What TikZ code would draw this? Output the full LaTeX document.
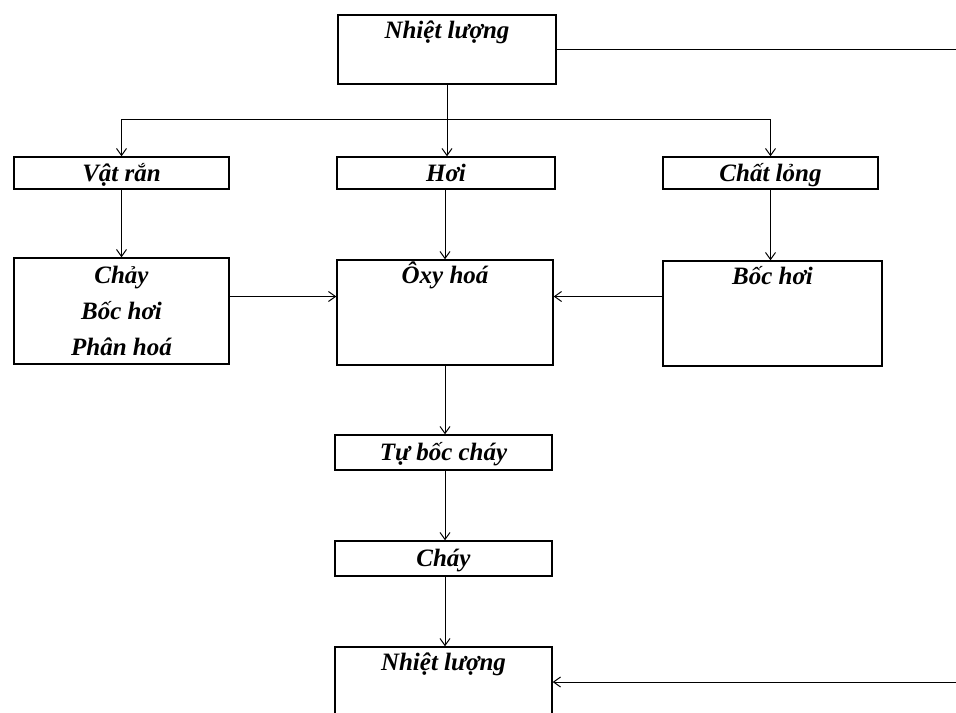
\documentclass[tikz,border=0pt]{standalone}
\usepackage{fontspec}
\setmainfont{Liberation Serif}
\usetikzlibrary{arrows.meta, positioning}

\begin{document}
\begin{tikzpicture}[->, >={Straight Barb[length=3.5pt, width=5pt]},
			x=0.5pt, y=-0.5pt, line width=0.5pt,
			every node/.style={font=\fontsize{12.5}{18}\selectfont\bfseries\itshape},
			box/.style={draw, rectangle, line width=0.7pt, inner xsep=2pt, inner ysep=1pt, align=center},
			smallbox/.style={box, text height=10pt, text depth=2pt, inner ysep=2pt, minimum height=#1},
			topbox/.style={box, text height=8.5pt, inner ysep=3pt, text depth=#1}]
			
			\useasboundingbox (0,0) rectangle (956,712);
			\clip (0,0) rectangle (956,712);
			
			% Hop nhiet luong tren cung
			\node[topbox=20pt, minimum width=109pt] (nl1) at (447,49.5) {Nhiệt lượng};
			
			% Ba trang thai
			\node[smallbox=16pt, minimum width=107.5pt] (vr) at (121.5,173) {Vật rắn};
			\node[smallbox=16pt, minimum width=109pt] (hoi) at (446,173) {Hơi};
			\node[smallbox=16pt, minimum width=107.5pt] (cl) at (770.5,173) {Chất lỏng};
			
			% Qua trinh
			\node[box, minimum width=107.5pt, minimum height=53pt] (chay) at (121.5,311) {Chảy\\Bốc hơi\\Phân hoá};
			\node[topbox=38pt, minimum width=108pt] (oxy) at (445,312.5) {Ôxy hoá};
			\node[topbox=38pt, minimum width=109.5pt] (boc) at (772.5,313.5) {Bốc hơi};
			
			% Chuoi chay
			\node[smallbox=17.5pt, minimum width=108.5pt] (tbc) at (443.5,452.5) {Tự bốc cháy};
			\node[smallbox=17.5pt, minimum width=108.5pt] (cy) at (443.5,558.5) {Cháy};
			\node[topbox=27pt, minimum width=108.5pt] (nl2) at (443.5,688.5) {Nhiệt lượng};
			
			\coordinate (re1) at (956,49.5);
			\coordinate (br) at (447,119);
			\coordinate (mid) at (0,296.5);
			\coordinate (re2) at (956,682);
			
			% Nhanh tu tren xuong
			\draw[-] (nl1.east) -- (re1);
			\draw[-] (nl1.south) -- (br);
			\draw (br) -- (br |- hoi.north);
			\draw (br) -| (vr);
			\draw (br) -| (cl);
			\draw (vr) -- (chay);
			\draw (hoi.south -| oxy.north) -- (oxy.north);
			\draw (cl.south) -- (cl.south |- boc.north);
			
			% Vao oxy hoa
			\draw (chay.east |- mid) -- (oxy.west |- mid);
			\draw (boc.west |- mid) -- (oxy.east |- mid);
			
			% Xuong duoi
			\draw (oxy.south) -- (oxy.south |- tbc.north);
			\draw (oxy.south |- tbc.south) -- (oxy.south |- cy.north);
			\draw (oxy.south |- cy.south) -- (oxy.south |- nl2.north);
			\draw (re2) -- (re2 -| nl2.east);
			
		\end{tikzpicture}
\end{document}
